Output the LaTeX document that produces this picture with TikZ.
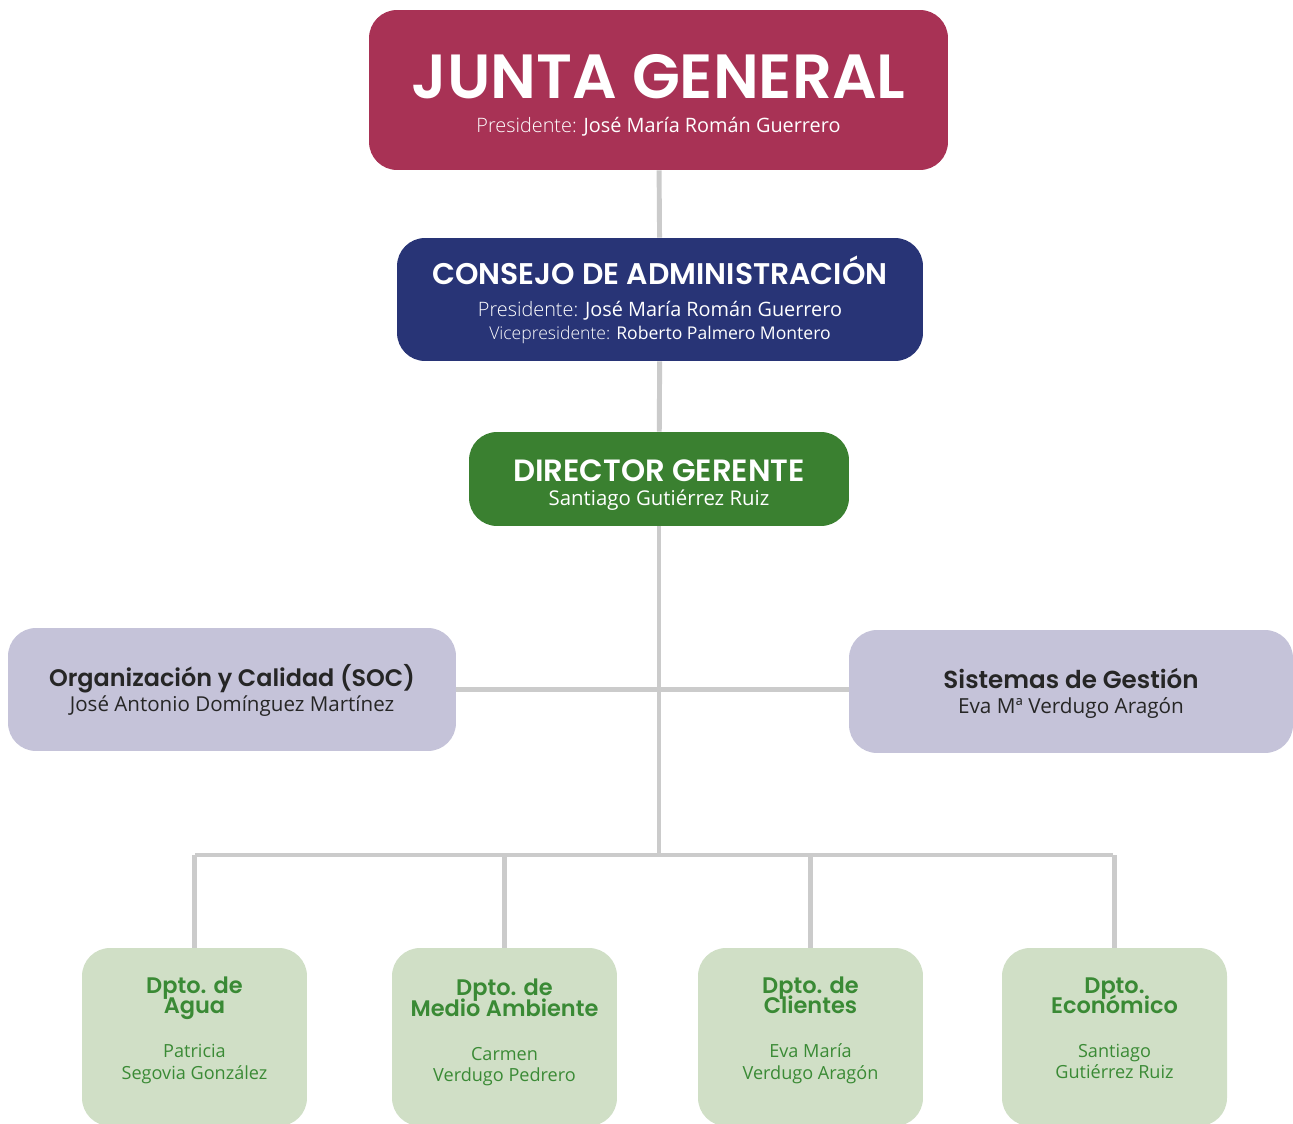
\documentclass[tikz,border=0pt]{standalone}
\usepackage{fontspec}
\setmainfont{Open Sans}
\newfontfamily\titlefont{Poppins}[BoldFont={Poppins SemiBold}]
\newfontfamily\lightfont{Open Sans Light}
\usetikzlibrary{positioning}
\definecolor{juntared}{HTML}{A83255}
\definecolor{consejoblue}{HTML}{283476}
\definecolor{directorgreen}{HTML}{3A8030}
\definecolor{staffgray}{HTML}{C5C3D9}
\definecolor{dptogreen}{HTML}{D0DFC6}
\definecolor{dptotext}{HTML}{3A8A35}
\definecolor{linegray}{HTML}{CBCBCB}
\newcommand{\fs}[1]{\fontsize{#1}{#1}\selectfont}
\newcommand{\lbl}[1]{{\lightfont #1}}
\tikzset{
  box/.style = {rounded corners=0.56cm, inner sep=0pt},
  staffbox/.style = {box, fill=staffgray, minimum width=8.96cm, minimum height=2.46cm},
  dptobox/.style = {box, fill=dptogreen, minimum width=4.5cm, minimum height=3.56cm},
  txt/.style = {anchor=base, inner sep=0pt, font=\fs{#1}},
  ttl/.style = {anchor=base, inner sep=0pt, font=\titlefont\bfseries\fs{#1}},
  edge/.style = {draw, linegray, line width=2.8pt},
}
\begin{document}
\begin{tikzpicture}[x=0.02cm,y=-0.02cm]
  \useasboundingbox (0,0) rectangle (1293,1124);

  % boxes
  \node[box, fill=juntared, minimum width=11.58cm, minimum height=3.2cm] (junta) at (658.5,90) {};
  \node[box, fill=consejoblue, minimum width=10.52cm, minimum height=2.46cm] (consejo) at (660,299.5) {};
  \node[box, fill=directorgreen, minimum width=7.6cm, minimum height=1.88cm] (director) at (659,479) {};
  \node[staffbox] (soc) at (232,689.5) {};
  \node[staffbox, minimum width=8.88cm] (sistemas) at (1071,691.5) {};
  \node[dptobox] (agua) at (194.5,1037) {};
  \node[dptobox] (medio) at (504.5,1037) {};
  \node[dptobox] (clientes) at (810.5,1037) {};
  \node[dptobox] (economico) at (1114.5,1037) {};

  % texts
  \node[ttl=35.5, white] (juntaT) at (658.5,99) {JUNTA GENERAL};
  \node[txt=11.3, white] (juntaS) at (658.5,133) {\lbl{Presidente:} José María Román Guerrero};

  \node[ttl=17, white] (consejoT) at (660,285) {CONSEJO DE ADMINISTRACIÓN};
  \node[txt=11.3, white] (consejoS) at (660,317) {\lbl{Presidente:} José María Román Guerrero};
  \node[txt=10, white] (consejoV) at (660,340) {\lbl{Vicepresidente:} Roberto Palmero Montero};

  \node[ttl=17.5, white] (directorT) at (659,481) {DIRECTOR GERENTE};
  \node[txt=11.6, white] (directorS) at (659,505) {Santiago Gutiérrez Ruiz};

  \node[ttl=13.6, black!85] (socT) at (232,686) {Organización y Calidad (SOC)};
  \node[txt=11.7, black!85] (socS) at (232,711) {José Antonio Domínguez Martínez};
  \node[ttl=14, black!85] (sistemasT) at (1071,688) {Sistemas de Gestión};
  \node[txt=11.8, black!85] (sistemasS) at (1071,713) {Eva Mª Verdugo Aragón};

  \node[ttl=12.8, dptotext] (aguaT1) at (194.5,993) {Dpto. de};
  \node[ttl=12.8, dptotext] (aguaT2) at (194.5,1013) {Agua};
  \node[txt=10.3, dptotext] (aguaS1) at (194.5,1057) {Patricia};
  \node[txt=10.3, dptotext] (aguaS2) at (194.5,1079) {Segovia González};

  \node[ttl=12.8, dptotext] (medioT1) at (504.5,995) {Dpto. de};
  \node[ttl=12.8, dptotext] (medioT2) at (504.5,1016) {Medio Ambiente};
  \node[txt=10.3, dptotext] (medioS1) at (504.5,1060) {Carmen};
  \node[txt=10.3, dptotext] (medioS2) at (504.5,1081) {Verdugo Pedrero};

  \node[ttl=12.8, dptotext] (clientesT1) at (810.5,993) {Dpto. de};
  \node[ttl=12.8, dptotext] (clientesT2) at (810.5,1013) {Clientes};
  \node[txt=10.3, dptotext] (clientesS1) at (810.5,1057) {Eva María};
  \node[txt=10.3, dptotext] (clientesS2) at (810.5,1079) {Verdugo Aragón};

  \node[ttl=12.8, dptotext] (economicoT1) at (1114.5,993) {Dpto.};
  \node[ttl=12.8, dptotext] (economicoT2) at (1114.5,1013) {Económico};
  \node[txt=10.3, dptotext] (economicoS1) at (1114.5,1057) {Santiago};
  \node[txt=10.3, dptotext] (economicoS2) at (1114.5,1078) {Gutiérrez Ruiz};

  % connectors
  \coordinate (bus) at (659,855);
  \coordinate (busL) at (195,855);
  \coordinate (busR) at (1113,855);

  \path[edge] (junta) -- (consejo);
  \path[edge] (consejo) -- (director);
  \path[edge] (director) -- (bus);
  \path[edge] (soc.east) -- (soc.east -| sistemas.west);
  \path[edge] (busL) -- (busR);
  \path[edge] (agua.north) -- (agua.north |- bus);
  \path[edge] (medio.north) -- (medio.north |- bus);
  \path[edge] (clientes.north) -- (clientes.north |- bus);
  \path[edge] (economico.north) -- (economico.north |- bus);
\end{tikzpicture}
\end{document}
